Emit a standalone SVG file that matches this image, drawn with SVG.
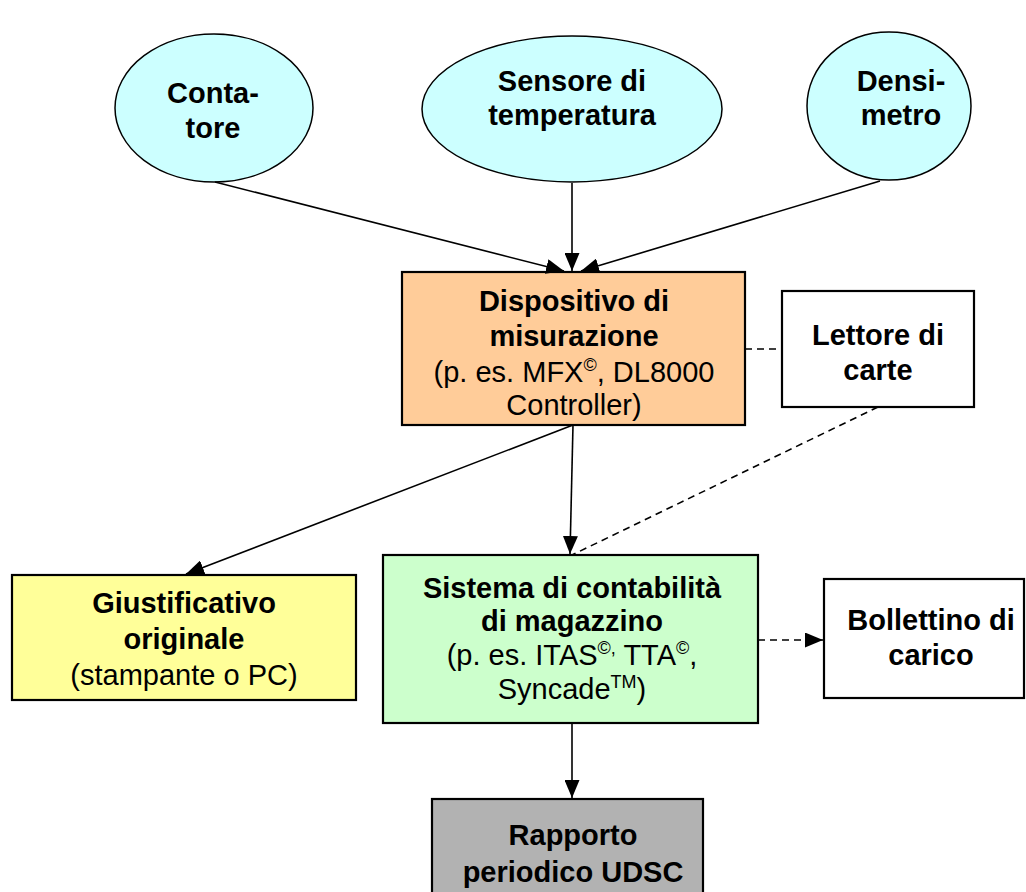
<svg xmlns="http://www.w3.org/2000/svg" width="1026" height="892" viewBox="0 0 1026 892">
  <defs>
    <marker id="arrow" viewBox="0 0 18 15" refX="18" refY="7.5" markerWidth="18" markerHeight="15" markerUnits="userSpaceOnUse" orient="auto">
      <path d="M0,0 L18,7.5 L0,15 Z" fill="#000"/>
    </marker>
    <style>
      .ell { fill: #ccffff; stroke: #000; stroke-width: 1.5; }
      .box { stroke: #000; stroke-width: 2.2; }
      .t { font-family: "Liberation Sans", Arial, sans-serif; font-size: 29px; fill: #000; text-anchor: middle; }
      .b { font-weight: bold; }
      .conn { stroke: #000; stroke-width: 1.6; fill: none; }
      .dash { stroke-dasharray: 7 5; }
      .sup { font-size: 18px; }
    </style>
  </defs>

  <!-- sensors -->
  <g id="contatore">
    <ellipse class="ell" cx="214" cy="108" rx="99" ry="74"/>
    <text class="t b" x="213" y="103">Conta-</text>
    <text class="t b" x="213" y="138">tore</text>
  </g>
  <g id="sensore-temperatura">
    <ellipse class="ell" cx="572" cy="109" rx="150" ry="73"/>
    <text class="t b" x="572" y="91">Sensore di</text>
    <text class="t b" x="572" y="125">temperatura</text>
  </g>
  <g id="densimetro">
    <ellipse class="ell" cx="889" cy="106" rx="82" ry="74"/>
    <text class="t b" x="901" y="91">Densi-</text>
    <text class="t b" x="901" y="125">metro</text>
  </g>

  <!-- measuring device -->
  <g id="dispositivo">
    <rect class="box" x="402" y="272" width="343" height="153" fill="#ffcc99"/>
    <text class="t b" x="574" y="311">Dispositivo di</text>
    <text class="t b" x="574" y="346">misurazione</text>
    <text class="t" x="574" y="382">(p. es. MFX<tspan class="sup" dy="-11">©</tspan><tspan dy="11">, DL8000</tspan></text>
    <text class="t" x="574" y="415">Controller)</text>
  </g>

  <g id="lettore">
    <rect class="box" x="782" y="291" width="192" height="116" fill="#fff"/>
    <text class="t b" x="878" y="345">Lettore di</text>
    <text class="t b" x="878" y="380">carte</text>
  </g>

  <g id="giustificativo">
    <rect class="box" x="12" y="575" width="344" height="125" fill="#ffff99"/>
    <text class="t b" x="184" y="613">Giustificativo</text>
    <text class="t b" x="184" y="649">originale</text>
    <text class="t" x="184" y="685">(stampante o PC)</text>
  </g>

  <g id="sistema">
    <rect class="box" x="383" y="555" width="375" height="168" fill="#ccffcc"/>
    <text class="t b" x="572" y="598">Sistema di contabilità</text>
    <text class="t b" x="572" y="631">di magazzino</text>
    <text class="t" x="572" y="665">(p. es. ITAS<tspan class="sup" dy="-11">©,</tspan><tspan dy="11"> TTA</tspan><tspan class="sup" dy="-11">©</tspan><tspan dy="11">,</tspan></text>
    <text class="t" x="572" y="699">Syncade<tspan class="sup" dy="-11">TM</tspan><tspan dy="11">)</tspan></text>
  </g>

  <g id="bollettino">
    <rect class="box" x="824" y="579" width="200" height="119" fill="#fff"/>
    <text class="t b" x="931" y="630">Bollettino di</text>
    <text class="t b" x="931" y="665">carico</text>
  </g>

  <g id="rapporto">
    <rect class="box" x="432" y="799" width="271" height="110" fill="#b2b2b2"/>
    <text class="t b" x="573" y="845">Rapporto</text>
    <text class="t b" x="573" y="882">periodico UDSC</text>
  </g>

  <!-- connectors -->
  <g id="connectors">
    <line class="conn" x1="215" y1="182" x2="564" y2="271" marker-end="url(#arrow)"/>
    <line class="conn" x1="572" y1="183" x2="572" y2="271" marker-end="url(#arrow)"/>
    <line class="conn" x1="880" y1="181" x2="581" y2="271" marker-end="url(#arrow)"/>
    <line class="conn dash" x1="745" y1="349" x2="782" y2="349"/>
    <line class="conn" x1="573" y1="425" x2="186" y2="574" marker-end="url(#arrow)"/>
    <line class="conn" x1="573" y1="425" x2="570" y2="554" marker-end="url(#arrow)"/>
    <line class="conn dash" x1="878" y1="407" x2="572" y2="555"/>
    <line class="conn dash" x1="758" y1="640" x2="823" y2="640" marker-end="url(#arrow)"/>
    <line class="conn" x1="572" y1="723" x2="572" y2="798" marker-end="url(#arrow)"/>
  </g>
</svg>
